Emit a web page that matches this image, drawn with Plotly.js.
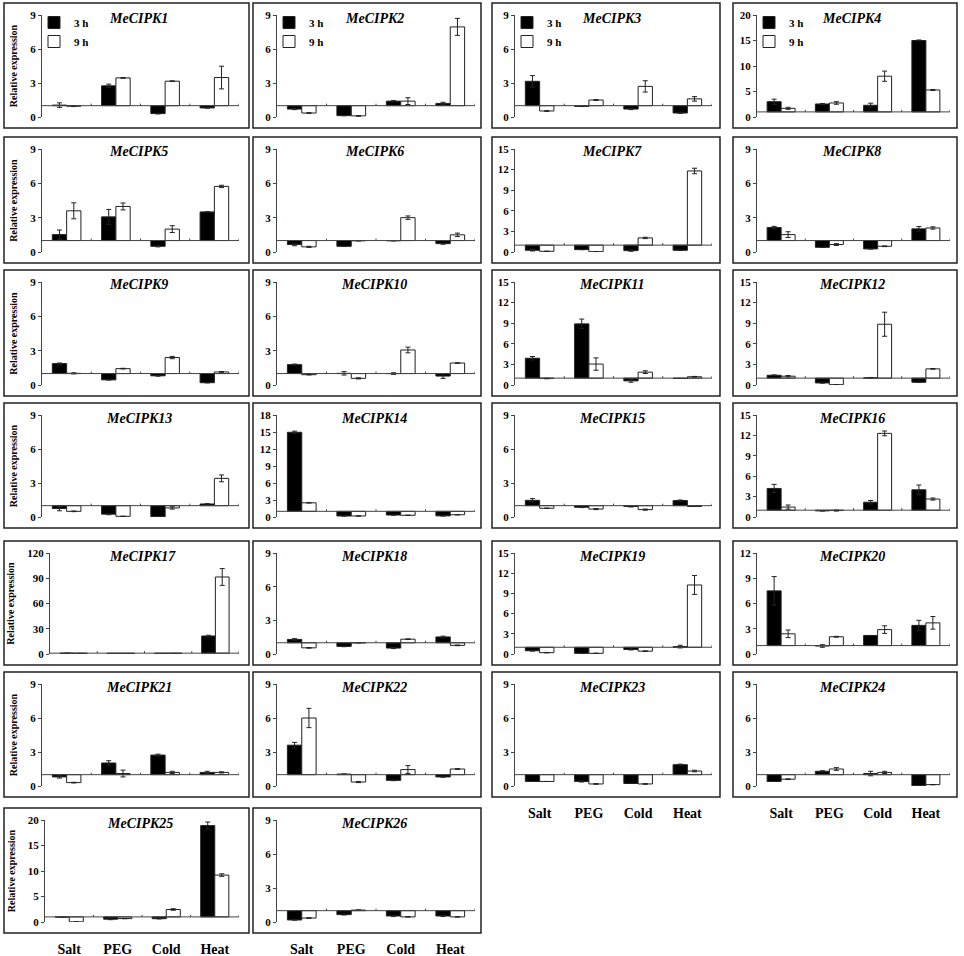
<!DOCTYPE html>
<html>
<head>
<meta charset="utf-8">
<script src="https://cdn.plot.ly/plotly-3.0.1.min.js"></script>
<style>
  html, body { margin: 0; padding: 0; background: #fff; }
  #chart { width: 964px; height: 956px; }
</style>
</head>
<body>
<div id="chart"></div>
<script>
// stress treatments (x categories)
const treatments = ['Salt', 'PEG', 'Cold', 'Heat'];
const seriesNames = ['3 h', '9 h'];

const genes = [
  'MeCIPK1', 'MeCIPK2', 'MeCIPK3', 'MeCIPK4', 'MeCIPK5', 'MeCIPK6', 'MeCIPK7',
  'MeCIPK8', 'MeCIPK9', 'MeCIPK10', 'MeCIPK11', 'MeCIPK12', 'MeCIPK13',
  'MeCIPK14', 'MeCIPK15', 'MeCIPK16', 'MeCIPK17', 'MeCIPK18', 'MeCIPK19',
  'MeCIPK20', 'MeCIPK21', 'MeCIPK22', 'MeCIPK23', 'MeCIPK24', 'MeCIPK25',
  'MeCIPK26'
];

// relative expression after 3 h, per gene: Salt, PEG, Cold, Heat
const expr3h = [
  [1.05, 2.75, 0.30, 0.80], [0.70, 0.12, 1.40, 1.20], [3.15, 0.94, 0.70, 0.35],
  [3.00, 2.55, 2.30, 15.0], [1.52, 3.07, 0.50, 3.50], [0.65, 0.50, 0.98, 0.73],
  [0.25, 0.35, 0.20, 0.25], [2.14, 0.41, 0.27, 2.02], [1.87, 0.45, 0.80, 0.20],
  [1.78, 1.02, 1.00, 0.78], [3.90, 8.90, 0.60, 0.95], [1.42, 0.30, 1.05, 0.40],
  [0.75, 0.25, 0.02, 1.15], [14.95, 0.18, 0.35, 0.20], [1.47, 0.86, 0.93, 1.45],
  [4.20, 0.90, 2.17, 4.00], [0.90, 0.30, 0.60, 21.4], [1.30, 0.68, 0.53, 1.52],
  [0.48, 0.10, 0.67, 1.10], [7.50, 0.95, 2.20, 3.40], [0.80, 2.03, 2.73, 1.20],
  [3.60, 1.05, 0.50, 0.80], [0.40, 0.40, 0.22, 1.88], [0.40, 1.30, 1.10, 0.02],
  [0.95, 0.55, 0.65, 18.9], [0.18, 0.65, 0.53, 0.53]
];
const err3h = [
  [0.20, 0.15, 0.03, 0.02], [0.05, 0.00, 0.05, 0.10], [0.50, 0.02, 0.05, 0.03],
  [0.50, 0.10, 0.40, 0.10], [0.40, 0.65, 0.05, 0.02], [0.10, 0.00, 0.00, 0.05],
  [0.10, 0.00, 0.10, 0.00], [0.10, 0.00, 0.00, 0.20], [0.05, 0.00, 0.03, 0.02],
  [0.05, 0.15, 0.07, 0.20], [0.25, 0.70, 0.20, 0.00], [0.05, 0.00, 0.05, 0.00],
  [0.20, 0.05, 0.00, 0.02], [0.20, 0.00, 0.00, 0.00], [0.15, 0.03, 0.05, 0.05],
  [0.60, 0.00, 0.25, 0.70], [0.00, 0.00, 0.00, 0.80], [0.07, 0.03, 0.05, 0.07],
  [0.05, 0.00, 0.07, 0.20], [1.70, 0.15, 0.00, 0.60], [0.10, 0.20, 0.08, 0.10],
  [0.25, 0.00, 0.03, 0.03], [0.00, 0.05, 0.00, 0.05], [0.00, 0.05, 0.20, 0.00],
  [0.05, 0.10, 0.05, 0.70], [0.00, 0.03, 0.05, 0.05]
];

// relative expression after 9 h
const expr9h = [
  [0.95, 3.45, 3.16, 3.48], [0.35, 0.10, 1.40, 7.95], [0.53, 1.50, 2.70, 1.60],
  [1.70, 2.75, 8.00, 5.30], [3.60, 3.98, 2.00, 5.73], [0.45, 0.98, 3.00, 1.50],
  [0.10, 0.05, 2.05, 11.8], [1.52, 0.65, 0.50, 2.10], [1.02, 1.43, 2.40, 1.14],
  [0.90, 0.58, 3.06, 1.92], [0.95, 3.05, 1.87, 1.20], [1.28, 0.05, 8.85, 2.35],
  [0.50, 0.06, 0.80, 3.41], [2.50, 0.18, 0.30, 0.40], [0.77, 0.70, 0.65, 0.93],
  [1.46, 0.95, 12.3, 2.64], [0.70, 0.40, 0.70, 91.5], [0.55, 1.00, 1.32, 0.77],
  [0.20, 0.10, 0.42, 10.25], [2.40, 2.05, 2.90, 3.70], [0.30, 1.10, 1.20, 1.20],
  [6.00, 0.35, 1.45, 1.50], [0.40, 0.18, 0.18, 1.32], [0.60, 1.50, 1.20, 0.12],
  [0.03, 0.67, 2.45, 9.20], [0.35, 1.05, 0.45, 0.45]
];
const err9h = [
  [0.03, 0.03, 0.03, 1.00], [0.03, 0.03, 0.30, 0.75], [0.03, 0.04, 0.50, 0.20],
  [0.20, 0.25, 1.00, 0.10], [0.70, 0.30, 0.30, 0.10], [0.05, 0.02, 0.15, 0.15],
  [0.00, 0.00, 0.10, 0.40], [0.25, 0.08, 0.03, 0.10], [0.05, 0.03, 0.10, 0.03],
  [0.02, 0.05, 0.25, 0.02], [0.05, 0.90, 0.20, 0.05], [0.10, 0.00, 1.75, 0.05],
  [0.03, 0.00, 0.10, 0.30], [0.00, 0.00, 0.03, 0.00], [0.00, 0.05, 0.05, 0.00],
  [0.30, 0.08, 0.35, 0.15], [0.00, 0.00, 0.00, 10.0], [0.03, 0.00, 0.03, 0.03],
  [0.03, 0.00, 0.05, 1.40], [0.45, 0.05, 0.45, 0.75], [0.03, 0.30, 0.10, 0.05],
  [0.85, 0.05, 0.35, 0.03], [0.00, 0.03, 0.03, 0.07], [0.03, 0.12, 0.10, 0.00],
  [0.00, 0.03, 0.15, 0.25], [0.03, 0.02, 0.00, 0.00]
];

// y axis top and tick step per panel
const yMax  = [9, 9, 9, 20, 9, 9, 15, 9, 9, 9, 15, 15, 9, 18, 9, 15, 120, 9, 15, 12, 9, 9, 9, 9, 20, 9];
const yStep = [3, 3, 3, 5, 3, 3, 3, 3, 3, 3, 3, 3, 3, 3, 3, 3, 30, 3, 3, 3, 3, 3, 3, 3, 5, 3];

const BASE = 1; // bars start from the control level

// page geometry in pixels
const W = 964, H = 956;
const colBox  = [[4, 249], [253, 481], [492, 720], [733, 957]];
const colPlot = [[42, 239], [277, 475], [515, 712], [757, 950]];
const rowBox  = [[3, 128], [137, 263], [270, 396], [403, 528], [541, 665], [672, 797], [808, 933]];
const leftOverride = { 16: 50, 24: 45 }; // wider tick labels push the axis right

const serif = "'Liberation Serif', 'Times New Roman', Times, serif";
const ink = '#222';

const px = v => v / W;
const py = v => 1 - v / H;

// which panels carry the category labels underneath
const bottomPanels = [22, 23, 24, 25];

const data = [];
const shapes = [];
const annotations = [];
const layout = {
  width: W, height: H,
  margin: { l: 0, r: 0, t: 0, b: 0 },
  paper_bgcolor: '#fff', plot_bgcolor: 'rgba(0,0,0,0)',
  barmode: 'group', bargap: 0.42, bargroupgap: 0,
  hovermode: false,
  font: { family: serif, color: '#000' },
  shapes: shapes, annotations: annotations
};

genes.forEach((gene, i) => {
  const row = Math.floor(i / 4), col = i % 4;
  const n = i + 1;
  const xk = 'xaxis' + (n === 1 ? '' : n), yk = 'yaxis' + (n === 1 ? '' : n);
  const xr = 'x' + (n === 1 ? '' : n), yr = 'y' + (n === 1 ? '' : n);

  const left = leftOverride[i] || colPlot[col][0];
  const right = colPlot[col][1];
  const top = rowBox[row][0] + 12, bottom = rowBox[row][1] - 11;

  const legendKey = row === 0 ? (col === 0 ? 'legend' : 'legend' + (col + 1)) : undefined;

  [expr3h, expr9h].forEach((series, s) => {
    const errs = s === 0 ? err3h : err9h;
    const trace = {
      type: 'bar',
      name: seriesNames[s],
      x: treatments,
      y: series[i].map(v => v - BASE),
      base: BASE,
      xaxis: xr, yaxis: yr,
      marker: { color: s === 0 ? '#000' : '#fff', line: { color: ink, width: 1 } },
      error_y: { type: 'data', array: errs[i], visible: true, color: ink, thickness: 1, width: 2.5 },
      showlegend: row === 0
    };
    if (legendKey) trace.legend = legendKey;
    data.push(trace);
  });

  const isBottom = bottomPanels.includes(i);
  layout[xk] = {
    domain: [px(left), px(right)],
    anchor: yr,
    type: 'category',
    range: [-0.5, treatments.length - 0.5],
    showline: false, showgrid: false, zeroline: false,
    ticks: '',
    showticklabels: isBottom,
    ticklabelstandoff: 17,
    tickfont: { family: serif, size: 14, weight: 'bold', color: '#000' },
    fixedrange: true
  };
  layout[yk] = {
    domain: [py(bottom), py(top)],
    anchor: xr,
    range: [0, yMax[i]],
    dtick: yStep[i], tick0: 0,
    showline: true, linecolor: '#444', linewidth: 1,
    ticks: 'outside', ticklen: 3, tickcolor: '#444',
    showgrid: false, zeroline: false,
    tickfont: { family: serif, size: 11, weight: 'bold', color: '#000' },
    fixedrange: true
  };
  if (col === 0) {
    layout[yk].title = {
      text: 'Relative expression',
      font: { family: serif, size: 10, weight: 'bold', color: '#000' },
      standoff: 10
    };
  }

  // panel frame
  shapes.push({
    type: 'rect', xref: 'paper', yref: 'paper',
    x0: px(colBox[col][0]), x1: px(colBox[col][1]),
    y0: py(rowBox[row][1]), y1: py(rowBox[row][0]),
    line: { color: ink, width: 1.5 }, fillcolor: 'rgba(0,0,0,0)', layer: 'above'
  });
  // baseline at the control level
  shapes.push({
    type: 'line', xref: xr + ' domain', yref: yr,
    x0: 0, x1: 1, y0: BASE, y1: BASE,
    line: { color: '#444', width: 1 }
  });
  // small ticks between treatments
  for (let k = 0; k < treatments.length; k++) {
    shapes.push({
      type: 'line', xref: xr, yref: yr, ysizemode: 'pixel', yanchor: BASE,
      x0: k + 0.5, x1: k + 0.5, y0: 0, y1: 2,
      line: { color: '#444', width: 1 }
    });
  }
  // gene name
  annotations.push({
    text: gene, xref: xr + ' domain', yref: 'paper',
    x: 0.49, y: py(rowBox[row][0] + 15), xanchor: 'center', yanchor: 'middle',
    showarrow: false,
    font: { family: serif, size: 14, weight: 'bold', style: 'italic', color: '#000' }
  });

  if (legendKey) {
    layout[legendKey] = {
      x: px(left - 8), y: py(rowBox[row][0] + 5),
      xanchor: 'left', yanchor: 'top',
      bgcolor: 'rgba(0,0,0,0)', borderwidth: 0,
      tracegroupgap: 0, itemclick: false, itemdoubleclick: false,
      itemwidth: 30,
      font: { family: serif, size: 11, weight: 'bold', color: '#000' }
    };
  }
});

Plotly.newPlot('chart', data, layout, { staticPlot: true, displayModeBar: false });
</script>
</body>
</html>
